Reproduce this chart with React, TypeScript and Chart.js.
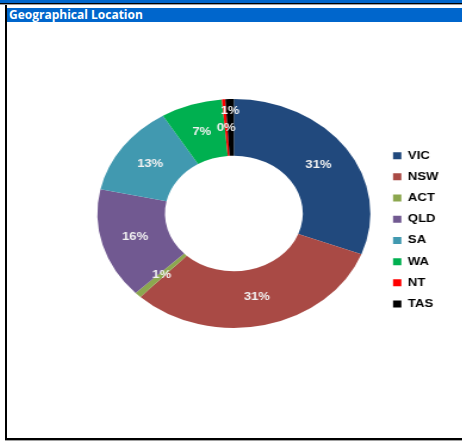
import React, { useEffect, useRef } from "react";
import { Chart, registerables } from "chart.js";

Chart.register(...registerables);

const regions = ["VIC", "NSW", "ACT", "QLD", "SA", "WA", "NT", "TAS"];
const shares = [30.8, 31.2, 0.8, 15.6, 12.9, 7.3, 0.4, 1.0];
const colors = ["#21497D", "#A94A45", "#8CA74F", "#715991", "#4199B0", "#00B050", "#FF0000", "#000000"];
const title = "Geographical Location";

const STRETCH = 1.192;
const CW = 382;
const CH = 416;

const labelPlugin = {
  id: "sliceLabels",
  afterDatasetsDraw(chart: any) {
    const ctx = chart.ctx;
    const meta = chart.getDatasetMeta(0);
    const data = chart.data.datasets[0].data as number[];
    const total = data.reduce((a, b) => a + b, 0);
    ctx.save();
    ctx.font = "bold 11px 'Liberation Sans', Arial, sans-serif";
    ctx.fillStyle = "#F2F2F2";
    ctx.textAlign = "center";
    ctx.textBaseline = "middle";
    const boxes: { x: number; y: number; w: number; h: number }[] = [];
    meta.data.forEach((arc: any, i: number) => {
      const p = arc.getProps(["x", "y", "startAngle", "endAngle", "innerRadius", "outerRadius"], true);
      const mid = (p.startAngle + p.endAngle) / 2;
      let r = (p.innerRadius + p.outerRadius) / 2;
      const text = Math.round((data[i] / total) * 100) + "%";
      const w = ctx.measureText(text).width;
      const h = 12;
      let x = p.x + Math.cos(mid) * r;
      let y = p.y + Math.sin(mid) * r;
      const overlaps = () =>
        boxes.some((b) => Math.abs(b.x - x) < (b.w + w) / 2 + 2 && Math.abs(b.y - y) < (b.h + h) / 2 + 4);
      let guard = 0;
      while (overlaps() && guard < 80) {
        r += 1;
        x = p.x + Math.cos(mid) * r;
        y = p.y + Math.sin(mid) * r;
        guard++;
      }
      boxes.push({ x, y, w, h });
      ctx.fillText(text, x, y);
    });
    ctx.restore();
  },
};

export default function App() {
  const canvasRef = useRef<HTMLCanvasElement | null>(null);

  useEffect(() => {
    const canvas = canvasRef.current;
    if (!canvas) return;
    const chart = new Chart(canvas, {
      type: "doughnut",
      data: {
        labels: regions,
        datasets: [
          {
            data: shares,
            backgroundColor: colors,
            borderColor: colors,
            borderWidth: 0,
          },
        ],
      },
      options: {
        responsive: false,
        animation: false,
        cutout: "50.5%",
        layout: { padding: { top: 77, bottom: 110, left: 67, right: 10 } },
        plugins: {
          tooltip: { enabled: false },
          legend: {
            display: true,
            position: "right",
            title: {
              display: true,
              text: "",
              font: { size: 11 },
              padding: { top: 10, bottom: 9.5 },
            },
            labels: {
              boxWidth: 7,
              boxHeight: 7,
              padding: 10.2,
              color: "#000000",
              font: { family: "'Liberation Sans', Arial, sans-serif", size: 11, weight: "bold" },
            },
          },
        },
      },
      plugins: [labelPlugin],
    });
    return () => chart.destroy();
  }, []);

  return (
    <div style={{ position: "fixed", left: 0, top: 0, width: 462, height: 442, background: "#fff", overflow: "hidden" }}>
      <div style={{ position: "absolute", left: 0, top: 0, width: 462, height: 2.5, background: "#0066CC" }} />
      <div style={{ position: "absolute", left: 0, top: 2.5, width: 462, height: 1.5, background: "#000" }} />
      <div style={{ position: "absolute", left: 0, top: 4, width: 462, height: 1, background: "#A0A0A0" }} />
      <div style={{ position: "absolute", left: 5, top: 5, width: 2, height: 434, background: "#000" }} />
      <div style={{ position: "absolute", left: 5, top: 438, width: 457, height: 1.5, background: "#000" }} />
      <div style={{ position: "absolute", left: 5, top: 439.5, width: 457, height: 1, background: "#A0A0A0" }} />
      <div
        style={{
          position: "absolute",
          left: 7,
          top: 8,
          width: 455,
          height: 14,
          background: "#0066CC",
          color: "#fff",
          font: "bold 12px 'Open Sans', sans-serif",
          lineHeight: "14px",
          paddingLeft: 2,
          boxSizing: "border-box",
          whiteSpace: "nowrap",
          overflow: "hidden",
        }}
      >
        {title}
      </div>
      <div
        style={{
          position: "absolute",
          left: 7,
          top: 22,
          width: CW,
          height: CH,
          transform: `scaleX(${STRETCH})`,
          transformOrigin: "0 0",
        }}
      >
        <canvas ref={canvasRef} width={CW} height={CH} style={{ width: CW, height: CH, display: "block" }} />
      </div>
    </div>
  );
}
